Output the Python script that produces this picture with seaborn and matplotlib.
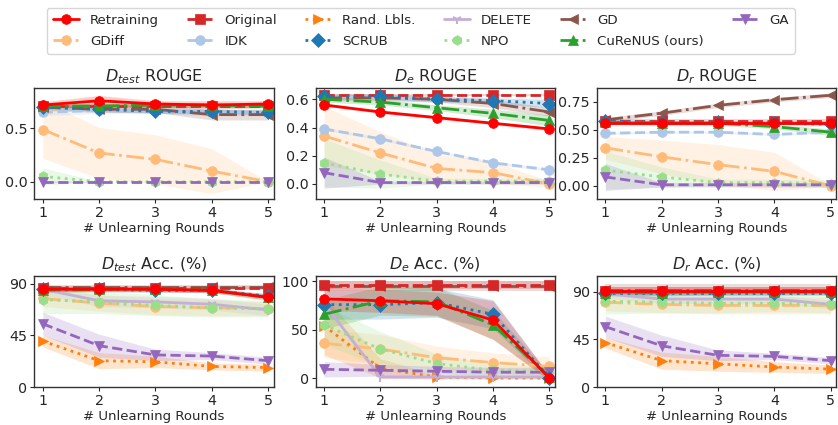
import numpy as np
import matplotlib
matplotlib.use("Agg")
import matplotlib.pyplot as plt
import seaborn as sns

sns.set_style("white")
plt.rcParams['font.family'] = ['DejaVu Sans']
plt.rcParams['mathtext.fontset'] = 'dejavusans'

ROUNDS = [1, 2, 3, 4, 5]

METHODS = ["Retraining", "GDiff", "Original", "IDK", "Rand. Lbls.", "SCRUB",
           "DELETE", "NPO", "GD", "CuReNUS (ours)", "GA"]

# ---------------- data: means ----------------
DTEST_ROUGE = {
    "Retraining": [0.72, 0.76, 0.73, 0.72, 0.73],
    "Original": [0.71, 0.71, 0.71, 0.71, 0.71],
    "GDiff": [0.49, 0.27, 0.21, 0.10, 0.00],
    "IDK": [0.65, 0.67, 0.67, 0.65, 0.65],
    "SCRUB": [0.70, 0.68, 0.66, 0.66, 0.65],
    "NPO": [0.05, 0.00, 0.00, 0.00, 0.00],
    "GD": [0.70, 0.68, 0.68, 0.63, 0.63],
    "CuReNUS (ours)": [0.71, 0.71, 0.72, 0.72, 0.71],
    "GA": [0.00, 0.00, 0.00, 0.00, 0.00],
}
DE_ROUGE = {
    "Retraining": [0.56, 0.51, 0.47, 0.43, 0.39],
    "Original": [0.63, 0.63, 0.63, 0.63, 0.63],
    "GDiff": [0.34, 0.22, 0.11, 0.08, 0.00],
    "IDK": [0.39, 0.32, 0.23, 0.15, 0.10],
    "SCRUB": [0.62, 0.62, 0.60, 0.59, 0.57],
    "NPO": [0.15, 0.07, 0.02, 0.02, 0.02],
    "GD": [0.61, 0.61, 0.60, 0.57, 0.51],
    "CuReNUS (ours)": [0.60, 0.58, 0.54, 0.50, 0.45],
    "GA": [0.08, 0.01, 0.01, 0.01, 0.01],
}
DR_ROUGE = {
    "Retraining": [0.56, 0.56, 0.56, 0.56, 0.56],
    "Original": [0.58, 0.58, 0.58, 0.58, 0.58],
    "GDiff": [0.34, 0.26, 0.19, 0.13, 0.00],
    "IDK": [0.47, 0.48, 0.48, 0.46, 0.48],
    "SCRUB": [0.58, 0.57, 0.57, 0.56, 0.55],
    "NPO": [0.14, 0.08, 0.03, 0.03, 0.02],
    "GD": [0.59, 0.65, 0.72, 0.77, 0.81],
    "CuReNUS (ours)": [0.57, 0.56, 0.56, 0.53, 0.48],
    "GA": [0.08, 0.01, 0.01, 0.01, 0.01],
}
DTEST_ACC = {
    "Retraining": [85, 85, 85, 84, 78],
    "Original": [86, 86, 86, 86, 86],
    "GDiff": [77, 73, 70, 69, 68],
    "Rand. Lbls.": [40, 23, 22, 18, 17],
    "SCRUB": [85, 85, 84, 84, 79],
    "DELETE": [85, 75, 74, 72, 67],
    "NPO": [76, 74, 71, 69, 68],
    "GD": [87, 87, 87, 87, 87],
    "CuReNUS (ours)": [84, 85, 85, 84, 78],
    "GA": [55, 36, 28, 27, 23],
}
DE_ACC = {
    "Retraining": [82, 80, 77, 60, 0],
    "Original": [96, 96, 96, 96, 96],
    "GDiff": [36, 30, 21, 16, 12],
    "Rand. Lbls.": [54, 10, 1, 0, 0],
    "SCRUB": [76, 76, 78, 66, 0],
    "DELETE": [77, 1, 1, 1, 1],
    "NPO": [55, 30, 15, 8, 7],
    "GD": [95, 95, 95, 95, 95],
    "CuReNUS (ours)": [66, 80, 79, 55, 1],
    "GA": [9, 8, 7, 6, 6],
}
DR_ACC = {
    "Retraining": [91, 91, 91, 91, 91],
    "Original": [91, 91, 91, 91, 91],
    "GDiff": [80, 78, 77, 77, 77],
    "Rand. Lbls.": [42, 25, 22, 19, 17],
    "SCRUB": [89, 89, 89, 89, 89],
    "DELETE": [88, 83, 83, 83, 78],
    "NPO": [81, 80, 79, 79, 78],
    "GD": [92, 92, 92, 92, 92],
    "CuReNUS (ours)": [89, 89, 90, 90, 90],
    "GA": [57, 39, 30, 29, 25],
}

# ---------------- data: spreads (shaded bands, +/-) ----------------
DTEST_ROUGE_SD = {
    "Retraining": [0.03, 0.05, 0.03, 0.04, 0.03],
    "Original": [0.02, 0.02, 0.02, 0.02, 0.02],
    "GDiff": [0.27, 0.24, 0.23, 0.21, 0.0],
    "IDK": [0.03, 0.03, 0.03, 0.03, 0.03],
    "SCRUB": [0.02, 0.02, 0.02, 0.02, 0.02],
    "NPO": [0.08, 0.0, 0.0, 0.0, 0.0],
    "GD": [0.03, 0.03, 0.03, 0.05, 0.05],
    "CuReNUS (ours)": [0.02, 0.02, 0.02, 0.02, 0.02],
    "GA": [0.01, 0.0, 0.0, 0.0, 0.0],
}
DE_ROUGE_SD = {
    "Retraining": [0.01, 0.01, 0.01, 0.01, 0.01],
    "Original": [0.01, 0.01, 0.01, 0.01, 0.01],
    "GDiff": [0.21, 0.15, 0.10, 0.08, 0.02],
    "IDK": [0.01, 0.01, 0.01, 0.01, 0.01],
    "SCRUB": [0.02, 0.02, 0.02, 0.02, 0.03],
    "NPO": [0.17, 0.10, 0.02, 0.02, 0.02],
    "GD": [0.02, 0.02, 0.02, 0.03, 0.03],
    "CuReNUS (ours)": [0.02, 0.02, 0.02, 0.03, 0.04],
    "GA": [0.11, 0.01, 0.01, 0.01, 0.01],
}
DR_ROUGE_SD = {
    "Retraining": [0.02, 0.02, 0.02, 0.02, 0.02],
    "Original": [0.02, 0.02, 0.02, 0.02, 0.02],
    "GDiff": [0.10, 0.15, 0.18, 0.17, 0.01],
    "IDK": [0.01, 0.01, 0.01, 0.01, 0.01],
    "SCRUB": [0.01, 0.01, 0.01, 0.01, 0.01],
    "NPO": [0.17, 0.09, 0.03, 0.03, 0.03],
    "GD": [0.02, 0.02, 0.02, 0.02, 0.02],
    "CuReNUS (ours)": [0.02, 0.02, 0.02, 0.02, 0.03],
    "GA": [0.12, 0.02, 0.02, 0.02, 0.02],
}
DTEST_ACC_SD = {
    "Retraining": [2, 2, 2, 2, 3],
    "Original": [2, 2, 2, 2, 2],
    "GDiff": [7, 7, 7, 7, 6],
    "Rand. Lbls.": [5, 7, 5, 3, 3],
    "SCRUB": [2, 2, 2, 2, 2],
    "DELETE": [5, 5, 5, 5, 5],
    "NPO": [12, 10, 9, 8, 7],
    "GD": [2, 2, 2, 2, 2],
    "CuReNUS (ours)": [2, 2, 2, 2, 2],
    "GA": [10, 10, 5, 3, 3],
}
DE_ACC_SD = {
    "Retraining": [12, 12, 12, 20, 3],
    "Original": [4, 4, 4, 4, 4],
    "GDiff": [15, 15, 12, 10, 10],
    "Rand. Lbls.": [30, 10, 2, 1, 1],
    "SCRUB": [15, 15, 15, 15, 3],
    "DELETE": [3, 2, 2, 2, 2],
    "NPO": [20, 18, 10, 6, 5],
    "GD": [5, 5, 5, 5, 5],
    "CuReNUS (ours)": [15, 15, 15, 15, 3],
    "GA": [8, 6, 5, 5, 5],
}
DR_ACC_SD = {
    "Retraining": [3, 3, 3, 3, 3],
    "Original": [3, 3, 3, 3, 3],
    "GDiff": [8, 8, 8, 8, 8],
    "Rand. Lbls.": [5, 8, 7, 5, 4],
    "SCRUB": [3, 3, 3, 3, 3],
    "DELETE": [4, 4, 4, 4, 4],
    "NPO": [12, 10, 9, 8, 8],
    "GD": [5, 5, 5, 5, 5],
    "CuReNUS (ours)": [3, 3, 3, 3, 3],
    "GA": [10, 10, 5, 3, 3],
}

PANELS = [
    (r"$D_{test}$ ROUGE", DTEST_ROUGE, DTEST_ROUGE_SD, (-0.16, 0.88), [0.0, 0.5], ["0.0", "0.5"]),
    (r"$D_e$ ROUGE", DE_ROUGE, DE_ROUGE_SD, (-0.105, 0.68), [0.0, 0.2, 0.4, 0.6], ["0.0", "0.2", "0.4", "0.6"]),
    (r"$D_r$ ROUGE", DR_ROUGE, DR_ROUGE_SD, (-0.115, 0.875), [0.0, 0.25, 0.5, 0.75], ["0.00", "0.25", "0.50", "0.75"]),
    (r"$D_{test}$ Acc. (%)", DTEST_ACC, DTEST_ACC_SD, (0, 96.2), [0, 45, 90], ["0", "45", "90"]),
    (r"$D_e$ Acc. (%)", DE_ACC, DE_ACC_SD, (-9.5, 105.3), [0, 50, 100], ["0", "50", "100"]),
    (r"$D_r$ Acc. (%)", DR_ACC, DR_ACC_SD, (0, 104.4), [0, 45, 90], ["0", "45", "90"]),
]

STYLE = {
    "Retraining": ("#ff0000", "-", "o"),
    "GDiff": ("#ffbb78", "-.", "o"),
    "Original": ("#d62728", "--", "s"),
    "IDK": ("#aec7e8", "--", "o"),
    "Rand. Lbls.": ("#ff7f0e", ":", ">"),
    "SCRUB": ("#1f77b4", ":", "D"),
    "DELETE": ("#c5b0d5", "-", "1"),
    "NPO": ("#98df8a", ":", "h"),
    "GD": ("#8c564b", "-.", "<"),
    "CuReNUS (ours)": ("#2ca02c", "-.", "^"),
    "GA": ("#9467bd", "--", "v"),
}

fig, axes = plt.subplots(2, 3, figsize=(8.38, 4.25), dpi=100)
fig.subplots_adjust(left=0.041, right=0.998, top=0.793, bottom=0.089,
                    hspace=0.70, wspace=0.175)

handles = {}
draw_order = ["GDiff", "IDK", "Rand. Lbls.", "DELETE", "NPO", "GA",
              "GD", "Original", "SCRUB", "CuReNUS (ours)", "Retraining"]
for ax, (title, means, sds, ylim, yt, ytl) in zip(axes.flat, PANELS):
    for name in draw_order:
        if name not in means:
            continue
        c, ls, mk = STYLE[name]
        m = np.array(means[name], dtype=float)
        s = np.array(sds[name], dtype=float)
        ax.fill_between(ROUNDS, m - s, m + s, color=c, alpha=0.2, linewidth=0)
        sns.lineplot(x=ROUNDS, y=m, ax=ax, color=c, linestyle=ls, marker=mk,
                     markersize=7, linewidth=2, markeredgewidth=1.5 if mk == "1" else 0.5,
                     markeredgecolor=c, label=name, legend=False)
        handles[name] = ax.lines[-1]
    ax.set_title(title, fontsize=11.5, pad=5)
    ax.set_ylim(*ylim)
    ax.set_yticks(yt)
    ax.set_yticklabels(ytl)
    ax.set_xticks(ROUNDS)
    ax.set_xlim(0.85, 5.1)
    ax.set_xlabel("# Unlearning Rounds", fontsize=9.5, labelpad=1.5)
    ax.set_ylabel("")
    ax.tick_params(axis="both", labelsize=10.3, length=3, pad=2, direction="out",
                   left=True, bottom=True)
    for sp in ax.spines.values():
        sp.set_color("#333333")
        sp.set_linewidth(1.0)

fig.legend([handles[n] for n in METHODS], METHODS, loc="upper center",
           bbox_to_anchor=(0.502, 0.997), ncol=6, fontsize=9.6,
           handlelength=2.0, columnspacing=2.1, handletextpad=0.8,
           labelspacing=0.58, frameon=True, borderpad=0.45)

fig.savefig("out.png", dpi=100)
